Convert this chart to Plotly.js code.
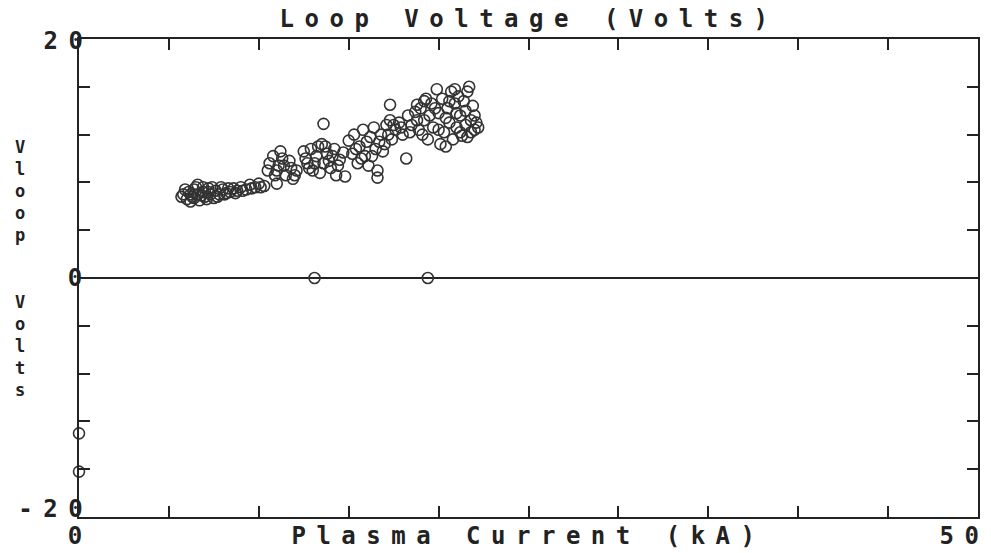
<!DOCTYPE html>
<html>
<head>
<meta charset="utf-8">
<script src="https://cdn.plot.ly/plotly-3.0.1.min.js"></script>
<style>
html,body{margin:0;padding:0;background:#fff;}
#chart{width:991px;height:553px;}
</style>
</head>
<body>
<div id="chart"></div>
<script>
// Plasma current (kA) and loop voltage (V)
const currentKA = [
  5.8,6.0,6.1,6.3,6.4,6.6,6.7,6.9,7.0,7.2,7.3,7.5,7.6,7.8,8.0,8.2,8.4,8.6,8.8,9.0,9.3,9.5,9.8,10.0,10.3,6.2,7.1,6.5,7.4,
  5.7,5.9,6.2,6.4,6.8,6.9,7.2,7.7,8.1,8.3,8.7,9.1,9.6,10.1,6.6,7.9,
  10.6,10.8,11.0,11.2,11.4,11.5,11.7,11.9,12.1,11.0,
  10.5,10.9,11.3,11.8,12.0,11.1,
  12.5,12.7,12.9,13.0,13.2,13.4,13.5,13.6,13.8,14.0,14.2,14.3,14.5,14.7,14.8,13.6,13.7,
  12.6,13.1,13.3,13.9,14.1,14.4,12.8,
  15.0,15.2,15.3,15.5,15.6,15.8,15.9,16.1,16.2,16.4,16.5,16.6,16.8,17.0,17.1,17.3,17.4,17.6,17.8,18.0,17.3,18.8,18.2,16.6,
  15.4,15.7,16.0,16.3,16.7,16.9,17.2,17.5,17.9,
  18.3,18.5,18.7,18.9,19.0,19.2,19.3,19.4,19.6,19.7,19.9,20.0,20.1,20.2,20.3,20.5,20.6,20.7,20.8,20.9,21.0,21.1,21.2,21.3,21.4,21.5,21.6,21.7,21.8,21.9,22.0,22.1,22.2,21.6,20.4,
  18.4,18.8,19.1,19.5,19.8,20.0,20.4,20.6,21.0,21.2,21.5,21.8,22.0,19.2,20.9,
  13.1,19.4,0,0
];
const loopVolts = [
  7.0,6.6,7.2,6.8,7.4,7.0,6.5,7.2,6.8,7.5,7.0,6.7,7.3,7.0,7.4,7.1,7.2,7.5,7.3,7.6,7.4,7.8,7.6,7.9,7.7,6.4,6.6,7.6,7.6,
  6.8,7.4,7.0,6.7,6.9,7.6,7.2,6.8,7.0,7.5,7.1,7.3,7.5,7.6,7.8,7.6,
  9.6,10.2,9.0,10.6,9.4,8.6,9.8,8.3,9.0,7.9,
  9.0,8.6,10.0,9.2,8.6,9.4,
  10.6,9.6,10.8,9.0,10.2,8.8,11.2,9.6,10.4,9.2,10.8,8.6,9.9,10.5,8.5,12.9,11.0,
  10.0,9.6,11.0,9.8,10.2,9.4,9.2,
  11.5,10.4,12.0,9.6,11.0,12.4,10.2,9.4,11.8,12.6,10.8,9.0,12.0,11.2,12.8,13.2,11.6,12.4,13.0,12.0,14.5,14.5,10.0,8.4,
  10.8,10.0,11.4,10.2,11.4,10.6,12.0,12.8,12.6,
  13.6,12.8,13.9,12.4,14.2,13.2,15.0,11.6,14.6,12.6,15.8,13.8,11.2,15.0,12.2,14.2,13.0,15.6,11.6,14.6,12.6,15.2,13.6,11.9,14.8,12.8,15.6,16.0,13.2,14.4,12.4,13.0,12.6,11.8,11.0,
  12.2,13.2,12.0,13.6,14.2,12.4,13.4,14.8,13.8,12.2,14.0,12.2,13.6,14.8,15.8,
  0,0,-13.0,-16.2
];

const xTickVals = [0,5,10,15,20,25,30,35,40,45,50];
const yTickVals = [-20,-16,-12,-8,-4,0,4,8,12,16,20];
const xLabelVals = [0,50];
const xLabelText = ['0','50'];
const yLabelVals = [20,0,-20];
const yLabelText = ['20','0','-20'];

const FONT = 'DejaVu Sans Mono, Liberation Mono, monospace';
const INK = '#222';
const SPACING = '10.5px';

const annotations = [];
const yShiftX = {'20':-11, '0':1, '-20':-24};
const yShiftY = {'20':-2, '0':0, '-20':8};
yLabelVals.forEach((v,i)=>{
  const t = yLabelText[i];
  annotations.push({xref:'paper', yref:'y', x:0, y:v, xanchor:'center', yanchor:'middle',
    xshift:yShiftX[t], yshift:yShiftY[t],
    text:t, showarrow:false, font:{family:FONT, size:24, color:INK, weight:'bold'}});
});
xLabelVals.forEach((v,i)=>{
  annotations.push({xref:'x', yref:'paper', x:v, y:0, xanchor:'center', yanchor:'middle',
    xshift:(v===0 ? 1 : -14), yshift:-19,
    text:xLabelText[i], showarrow:false, font:{family:FONT, size:24, color:INK, weight:'bold'}});
});
annotations.push({xref:'paper', yref:'paper', x:-0.0657, y:0.52, xanchor:'center', yanchor:'middle',
  text:'V<br>l<br>o<br>o<br>p<br><br><br>V<br>o<br>l<br>t<br>s', showarrow:false,
  font:{family:FONT, size:17, color:INK, weight:'bold'}});

const data = [{
  type:'scatter', mode:'markers', x:currentKA, y:loopVolts,
  marker:{symbol:'circle-open', size:11, color:'#333', line:{width:1.6, color:'#333'}},
  cliponaxis:false, hoverinfo:'x+y'
}];

const layout = {
  width:991, height:553,
  margin:{l:79, r:13, t:39, b:36},
  paper_bgcolor:'#fff', plot_bgcolor:'#fff',
  showlegend:false,
  title:{text:'Loop Voltage (Volts)', x:0.5006, xanchor:'center', xref:'paper', y:0.967, yref:'container', yanchor:'middle',
    font:{family:FONT, size:24, color:INK, weight:'bold'}},
  xaxis:{range:[0,50], tickvals:xTickVals, ticks:'inside', ticklen:11, tickwidth:2, tickcolor:INK,
    showticklabels:false, showgrid:false, zeroline:false, showline:true, linewidth:2, linecolor:INK, mirror:'ticks',
    title:{text:'Plasma Current (kA)', standoff:9, font:{family:FONT, size:24, color:INK, weight:'bold'}}},
  yaxis:{range:[-20,20], tickvals:yTickVals, ticks:'inside', ticklen:11, tickwidth:2, tickcolor:INK,
    showticklabels:false, showgrid:false, zeroline:true, zerolinecolor:INK, zerolinewidth:2,
    showline:true, linewidth:2, linecolor:INK, mirror:'ticks'},
  annotations:annotations
};

Plotly.newPlot('chart', data, layout, {displayModeBar:false, staticPlot:true}).then(()=>{
  document.querySelectorAll('.gtitle, .xtitle').forEach(el=>{ el.style.letterSpacing = SPACING; });
  document.querySelectorAll('.annotation-text').forEach(el=>{
    if (el.textContent.length <= 3) el.style.letterSpacing = SPACING;
  });
});
</script>
</body>
</html>
